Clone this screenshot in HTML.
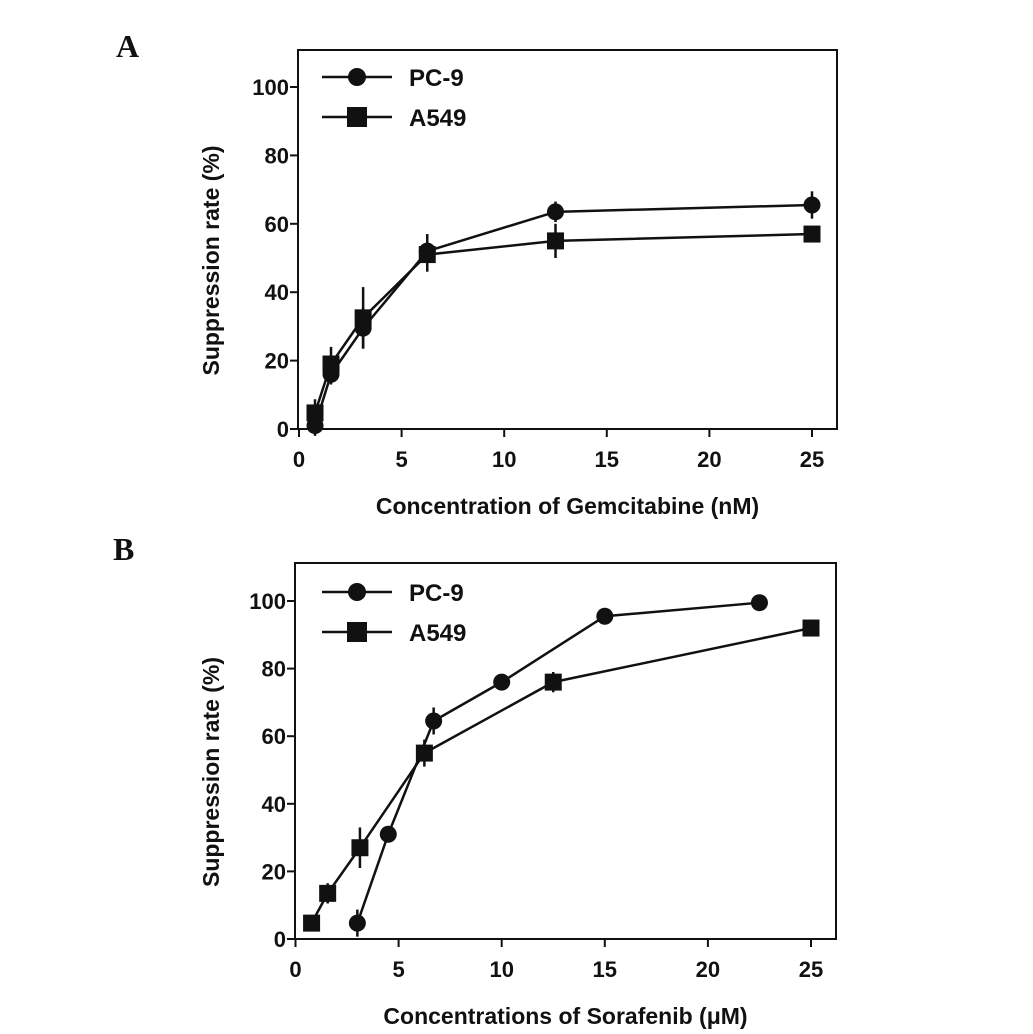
<!DOCTYPE html>
<html><head><meta charset="utf-8"><style>
body{margin:0;background:#fff}
svg{display:block}
text{font-family:"Liberation Sans",Arial,sans-serif;font-weight:bold;fill:#111}
</style></head><body>
<svg id="fig" width="1033" height="1034" viewBox="0 0 1033 1034" xmlns="http://www.w3.org/2000/svg">
<text x="116" y="57" style="font-family:'Liberation Serif',serif;font-size:32px">A</text>
<text x="113" y="560" style="font-family:'Liberation Serif',serif;font-size:32px">B</text>
</svg>
<script>
const xTicks=[0,5,10,15,20,25];
const yTicks=[0,20,40,60,80,100];
const seriesNames=["PC-9","A549"];
const aPc9X=[0.78,1.56,3.125,6.25,12.5,25];
const aPc9Y=[1,16,29.5,52,63.5,65.5];
const aPc9E=[3,3,6,5,3,4];
const aA549X=[0.78,1.56,3.125,6.25,12.5,25];
const aA549Y=[4.7,19,32.5,51,55,57];
const aA549E=[4,5,9,5,5,1];
const bPc9X=[3,4.5,6.7,10,15,22.5];
const bPc9Y=[4.7,31,64.5,76,95.5,99.5];
const bPc9E=[4,2,4,1,1,1];
const bA549X=[0.78,1.56,3.125,6.25,12.5,25];
const bA549Y=[4.7,13.5,27,55,76,92];
const bA549E=[2,3,6,4,3,2];

const NS="http://www.w3.org/2000/svg";
const svg=document.getElementById('fig');
function mk(tag,attrs,parent){const e=document.createElementNS(NS,tag);for(const k in attrs)e.setAttribute(k,attrs[k]);(parent||svg).appendChild(e);return e;}

function panel(p){
  const g=mk('g',{});
  
  
  const sx=v=>p.x0+(v/25)*(p.x25-p.x0);
  const sy=v=>p.y0-(v/100)*(p.y0-p.y100);
  const box=mk('rect',{x:p.left,y:p.top,width:p.right-p.left,height:p.y0-p.top,fill:'none',stroke:'#111','stroke-width':2},g);
  
  
  xTicks.forEach(t=>{
    mk('line',{x1:sx(t),x2:sx(t),y1:p.y0,y2:p.y0+8,stroke:'#111','stroke-width':2},g);
    const tx=mk('text',{x:sx(t),y:p.y0+38,'text-anchor':'middle','font-size':'22'},g);
    tx.textContent=t;
    
    
  });
  yTicks.forEach(t=>{
    mk('line',{x1:p.left-8,x2:p.left,y1:sy(t),y2:sy(t),stroke:'#111','stroke-width':2},g);
    const tx=mk('text',{x:p.left-9,y:sy(t)+8,'text-anchor':'end','font-size':'22'},g);
    tx.textContent=t;
    
    
  });
  const yt=mk('text',{x:0,y:0,'text-anchor':'middle','font-size':'23',transform:`translate(219,${(p.top+p.y0)/2+21}) rotate(-90)`},g);
  yt.textContent='Suppression rate (%)';
  
  
  const xt=mk('text',{x:(p.left+p.right)/2,y:p.y0+85,'text-anchor':'middle','font-size':'23'},g);
  xt.textContent=p.xtitle;
  
  
  p.series.forEach((s,si)=>{
    const pts=s.x.map((v,i)=>sx(v)+','+sy(s.y[i])).join(' ');
    const ln=mk('polyline',{points:pts,fill:'none',stroke:'#111','stroke-width':2.5},g);
    
    
    s.x.forEach((v,i)=>{
      const cx=sx(v),cy=sy(s.y[i]);
      mk('line',{x1:cx,x2:cx,y1:sy(s.y[i]+s.e[i]),y2:sy(s.y[i]-s.e[i]),stroke:'#111','stroke-width':2.5},g);
      let m;
      if(si===0){m=mk('circle',{cx:cx,cy:cy,r:8.5,fill:'#111'},g);}
      else{m=mk('rect',{x:cx-8.5,y:cy-8.5,width:17,height:17,fill:'#111'},g);}
      
      
    });
  });
  seriesNames.forEach((n,i)=>{
    const ly=p.legY+i*40;
    mk('line',{x1:322,x2:392,y1:ly,y2:ly,stroke:'#111','stroke-width':2.5},g);
    const m=i===0?mk('circle',{cx:357,cy:ly,r:9,fill:'#111'},g):mk('rect',{x:347,y:ly-10,width:20,height:20,fill:'#111'},g);
    
    
    const t=mk('text',{x:409,y:ly+9,'font-size':'24'},g);
    t.textContent=n;
    
    
  });
}
panel({id:'panel-a',left:298,right:837,top:50,y0:429,y100:87,x0:299,x25:812,legY:77,
  xtitle:'Concentration of Gemcitabine (nM)',
  series:[{name:'PC-9',x:aPc9X,y:aPc9Y,e:aPc9E},{name:'A549',x:aA549X,y:aA549Y,e:aA549E}]});
panel({id:'panel-b',left:295,right:836,top:563,y0:939,y100:601,x0:295.5,x25:811,legY:592,
  xtitle:'Concentrations of Sorafenib (μM)',
  series:[{name:'PC-9',x:bPc9X,y:bPc9Y,e:bPc9E},{name:'A549',x:bA549X,y:bA549Y,e:bA549E}]});
</script>
</body></html>
